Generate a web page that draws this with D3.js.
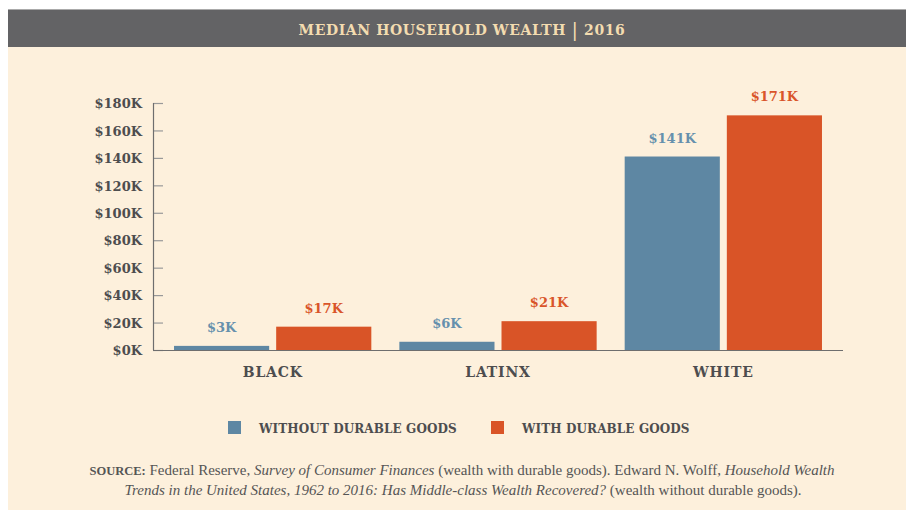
<!DOCTYPE html>
<html>
<head>
<meta charset="utf-8">
<script src="https://cdn.jsdelivr.net/npm/d3@7"></script>
<style>
  html, body { margin: 0; padding: 0; background: #ffffff; }
  svg { display: block; }
</style>
</head>
<body>
<svg width="906" height="510"></svg>
<script>
const groups = ["BLACK", "LATINX", "WHITE"];
const seriesNames = ["WITHOUT DURABLE GOODS", "WITH DURABLE GOODS"];
// thousands of dollars
const withoutDurable = [3, 6, 141];
const withDurable = [17, 21, 171];
const yTicks = [0, 20, 40, 60, 80, 100, 120, 140, 160, 180];

const colors = ["#5e87a3", "#d95427"];
const labelColors = ["#6690ad", "#d9552a"];
const ink = "#4d4d4f";
const serif = "'DejaVu Serif', serif";

const rows = groups.map((g, i) => ({ group: g, values: [withoutDurable[i], withDurable[i]] }));

const svg = d3.select("svg");

// background panels
svg.append("rect")
  .attr("x", 8).attr("y", 47).attr("width", 898).attr("height", 463)
  .style("fill", "#fdf0dc");
svg.append("rect")
  .attr("x", 8).attr("y", 9).attr("width", 898).attr("height", 38)
  .style("fill", "#636365");
svg.append("line")
  .attr("x1", 8).attr("x2", 906).attr("y1", 9.5).attr("y2", 9.5)
  .attr("stroke", "#aaaaaa");

// title
const title = svg.append("text")
  .attr("x", 462).attr("y", 35)
  .style("text-anchor", "middle")
  .style("font-family", serif)
  .style("font-weight", "bold")
  .style("font-size", "14px")
  .style("letter-spacing", "0.6px")
  .style("fill", "#f3dcb0");
title.append("tspan").text("MEDIAN HOUSEHOLD WEALTH ");
title.append("tspan").style("font-weight", "normal").style("font-size", "19px").attr("dy", 1).text("|");
title.append("tspan").attr("dy", -1).text(" 2016");

// scales
const xScale = d3.scaleBand()
  .domain(groups)
  .range([153, 843])
  .paddingInner(0.1244)
  .paddingOuter(0.0933);

const x1Scale = d3.scaleBand()
  .domain([0, 1])
  .range([0, xScale.bandwidth()])
  .paddingInner(0.0686);

const yScale = d3.scaleLinear().domain([0, 180]).range([350, 103]);

// y axis
const yAxis = d3.axisRight(yScale)
  .tickValues(yTicks)
  .tickSize(10)
  .tickFormat(d => "$" + d + "K");

svg.append("g")
  .attr("id", "yAxisG")
  .attr("transform", "translate(153,0)")
  .call(g => {
    g.call(yAxis);
    g.select(".domain").remove();
    g.selectAll(".tick line").attr("stroke", "#999999").attr("stroke-width", 1.2);
    g.selectAll(".tick text")
      .attr("x", -11)
      .attr("dy", "0.36em")
      .style("text-anchor", "end")
      .style("font-family", serif)
      .style("font-weight", "bold")
      .style("font-size", "13px")
      .style("fill", ink);
  });

svg.append("line")
  .attr("x1", 153.5).attr("x2", 153.5)
  .attr("y1", yScale(180)).attr("y2", 350)
  .attr("stroke", "#6e6e6e").attr("stroke-width", 1.2);

// bars
const groupG = svg.append("g")
  .attr("id", "barGroup")
  .selectAll("g")
  .data(rows)
  .enter()
  .append("g")
  .attr("transform", d => `translate(${xScale(d.group)},0)`);

groupG.selectAll("rect")
  .data(d => d.values.map((v, i) => ({ v, i })))
  .enter()
  .append("rect")
  .attr("x", d => x1Scale(d.i))
  .attr("y", d => yScale(d.v))
  .attr("width", x1Scale.bandwidth())
  .attr("height", d => yScale(0) - yScale(d.v))
  .style("fill", d => colors[d.i]);

groupG.selectAll("text")
  .data(d => d.values.map((v, i) => ({ v, i })))
  .enter()
  .append("text")
  .attr("x", d => x1Scale(d.i) + x1Scale.bandwidth() / 2)
  .attr("y", d => yScale(d.v) - 14)
  .style("text-anchor", "middle")
  .style("font-family", serif)
  .style("font-weight", "bold")
  .style("font-size", "13px")
  .style("fill", d => labelColors[d.i])
  .text(d => "$" + d.v + "K");

// x axis
const xAxis = d3.axisBottom(xScale).tickSize(0).tickPadding(0);
svg.append("g")
  .attr("id", "xAxisG")
  .attr("transform", "translate(0,350)")
  .call(g => {
    g.call(xAxis);
    g.select(".domain").remove();
    g.selectAll(".tick text")
      .attr("y", 27)
      .attr("dy", 0)
      .style("font-family", serif)
      .style("font-weight", "bold")
      .style("font-size", "14px")
      .style("letter-spacing", "0.8px")
      .style("fill", ink);
  });

svg.append("line")
  .attr("x1", 153).attr("x2", 843)
  .attr("y1", 350.5).attr("y2", 350.5)
  .attr("stroke", "#6e6e6e").attr("stroke-width", 1.2);

// legend
const legendX = [228, 491];
const legend = svg.append("g")
  .attr("id", "legendG")
  .selectAll("g")
  .data(seriesNames)
  .enter()
  .append("g")
  .attr("transform", (d, i) => `translate(${legendX[i]},421)`);

legend.append("rect")
  .attr("width", 13).attr("height", 13)
  .style("fill", (d, i) => colors[i]);

legend.append("text")
  .attr("x", 31).attr("y", 12)
  .style("font-family", serif)
  .style("font-weight", "bold")
  .style("font-size", "12px")
  .style("letter-spacing", "0.1px")
  .style("fill", ink)
  .text(d => d);

// source note
const srcFont = "'Liberation Serif', serif";
const line1 = svg.append("text")
  .attr("x", 462).attr("y", 475)
  .style("text-anchor", "middle")
  .style("font-family", srcFont)
  .style("font-size", "15px")
  .style("fill", "#555555");
line1.append("tspan").style("font-weight", "bold").style("font-size", "12.5px").text("SOURCE:");
line1.append("tspan").text(" Federal Reserve, ");
line1.append("tspan").style("font-style", "italic").text("Survey of Consumer Finances");
line1.append("tspan").text(" (wealth with durable goods). Edward N. Wolff, ");
line1.append("tspan").style("font-style", "italic").text("Household Wealth");

const line2 = svg.append("text")
  .attr("x", 463).attr("y", 495)
  .style("text-anchor", "middle")
  .style("font-family", srcFont)
  .style("font-size", "15px")
  .style("fill", "#555555");
line2.append("tspan").style("font-style", "italic").text("Trends in the United States, 1962 to 2016: Has Middle-class Wealth Recovered?");
line2.append("tspan").text(" (wealth without durable goods).");
</script>
</body>
</html>
